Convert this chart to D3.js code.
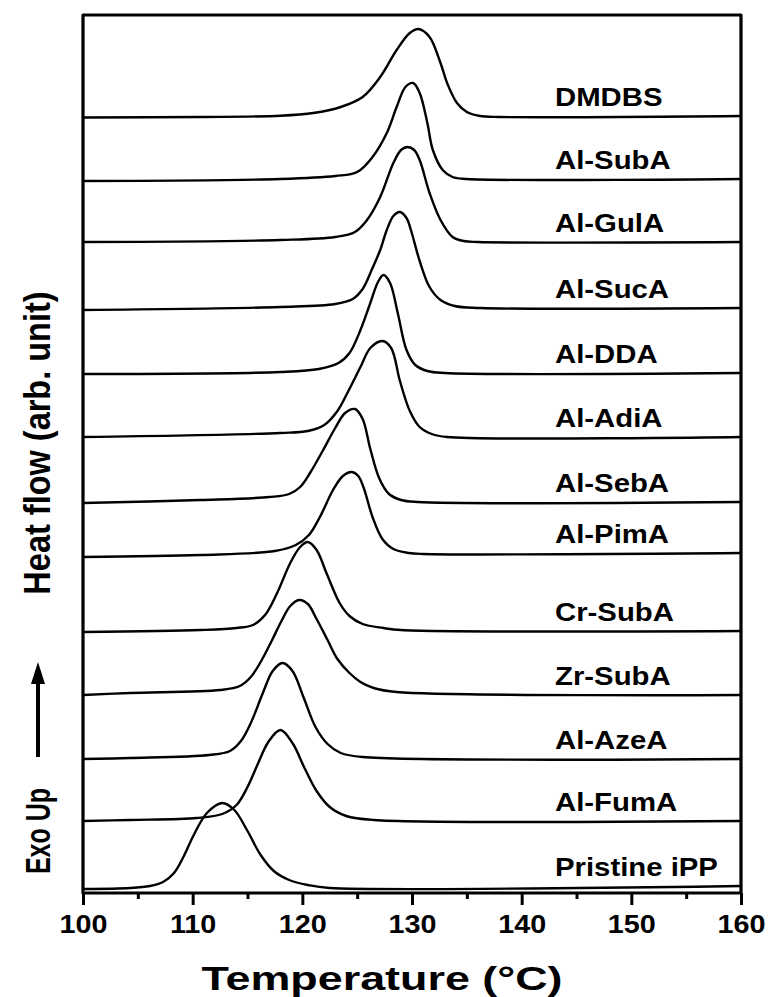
<!DOCTYPE html>
<html>
<head>
<meta charset="utf-8">
<script src="https://cdn.jsdelivr.net/npm/d3@7"></script>
<style>
html,body{margin:0;padding:0;background:#fff;}
svg{display:block;}
text{font-family:"Liberation Sans",Arial,Helvetica,sans-serif;font-weight:bold;fill:#000;}
</style>
</head>
<body>
<svg id="chart" width="769" height="997"></svg>
<script>
// ---------- data (temperature °C, heat flow arb. unit, stacked) ----------
const seriesNames = ["DMDBS","Al-SubA","Al-GulA","Al-SucA","Al-DDA","Al-AdiA","Al-SebA","Al-PimA","Cr-SubA","Zr-SubA","Al-AzeA","Al-FumA","Pristine iPP"];

const DMDBS   = [[100,775.5],[110.7,776],[118.0,777.3],[121.0,780],[123.5,786],[125.5,796],[127.1,816],[128.6,843],[129.8,860],[130.6,864],[131.6,856],[132.6,830],[133.2,810],[134.1,790],[135.0,781],[136.2,777],[138.0,776],[160,777]];
const AlSubA  = [[100,712],[118.0,714],[123.0,717],[125.0,721],[126.4,736],[127.7,760],[128.6,786],[129.4,806],[130.1,810],[130.7,800],[131.4,770],[131.9,743],[132.8,723],[133.7,716],[135.0,714],[160,714]];
const AlGulA  = [[100,651],[118.0,653],[123.0,656],[124.8,661],[125.9,673],[127.1,696],[128.3,730],[129.0,743],[129.6,746],[130.2,743],[130.7,733],[131.6,700],[132.6,673],[133.7,656],[134.7,652],[136.0,651],[160,651]];
const AlSucA  = [[100,583],[118.0,586],[123.0,589],[124.6,594],[125.5,604],[126.4,625],[127.1,643],[127.7,663],[128.3,677],[128.9,681],[129.5,675],[129.9,663],[130.7,632],[131.6,606],[132.6,593],[133.9,587],[136.2,585],[160,585]];
const AlDDA   = [[100,519],[118.0,521],[121.5,524],[123.3,530],[124.3,540],[125.3,563],[126.2,590],[126.9,611],[127.4,618],[128.0,610],[128.7,580],[129.5,543],[130.3,528],[131.4,522],[133.0,520],[160,520]];
const AlAdiA  = [[100,456],[118.0,460],[120.5,462],[122.0,468],[123.2,482],[124.2,502],[125.3,526],[126.2,545],[127.3,552],[128.1,545],[128.9,512],[129.8,482],[130.7,466],[131.8,459],[133.2,456],[160,456]];
const AlSebA  = [[100,390],[110.7,393],[117.0,396],[118.8,399],[119.8,406],[120.7,420],[121.9,443],[123.0,465],[123.9,480],[124.8,484],[125.5,474],[126.2,444],[127.0,415],[127.9,399],[129.0,393],[130.5,391],[160,391]];
const AlPimA  = [[100,336],[110.7,338],[117.5,342],[119.4,348],[120.6,358],[121.6,376],[122.8,403],[123.7,417],[124.5,421],[125.1,417],[125.6,405],[126.4,376],[127.3,354],[128.3,344],[129.7,340],[131.0,339],[160,340]];
const CrSubA  = [[100,261],[110.7,263],[114.0,265],[115.5,268],[116.6,278],[117.7,300],[118.9,330],[119.8,346],[120.5,351],[121.3,343],[122.2,320],[123.4,290],[124.3,277],[125.5,269],[127.4,265],[129.0,263],[160,262]];
const ZrSubA  = [[100,198],[104.3,200],[112.5,203],[114.3,207],[115.3,216],[116.3,233],[117.2,252],[118.1,272],[118.9,287],[119.7,293],[120.5,289],[121.3,274],[122.3,253],[123.2,234],[124.3,220],[125.3,211],[126.5,205],[128.6,201],[160,198]];
const AlAzeA  = [[100,134],[104.3,135],[111.5,138],[113.4,142],[114.4,152],[115.3,170],[116.4,200],[117.3,222],[118.2,230],[119.1,222],[120.1,196],[121.2,166],[122.3,149],[123.5,140],[125.5,136],[160,134]];
const AlFumA  = [[100,72],[104.3,73],[110.4,75],[112.7,79],[114.0,88],[115.0,106],[115.9,128],[116.9,151],[118.0,163],[119.1,150],[120.2,125],[121.3,102],[122.5,86],[124.0,77],[126.5,73],[160,72]];
const Pristine= [[100,4],[104.3,5],[106.1,7],[107.3,11],[108.3,20],[109.2,37],[110.1,58],[111.3,80],[112.7,90],[113.8,83],[115.0,62],[116.2,38],[117.4,22],[118.8,13],[120.5,8],[122.5,5],[160,7]];

const seriesData = [DMDBS,AlSubA,AlGulA,AlSucA,AlDDA,AlAdiA,AlSebA,AlPimA,CrSubA,ZrSubA,AlAzeA,AlFumA,Pristine];

const xMajorTicks = [100,110,120,130,140,150,160];
const xMinorTicks = [105,115,125,135,145,155];
const xTitle = "Temperature (\u00B0C)";
const yTitle = "Heat flow (arb. unit)";
const exoLabel = "Exo Up";

// ---------- layout ----------
const svg = d3.select("#chart");
const L = 83, R = 741, T = 15, B = 893;

const x = d3.scaleLinear().domain([100,160]).range([L,R]);
const y = d3.scaleLinear().domain([0,878]).range([B,T]);

const line = d3.line().x(d=>x(d[0])).y(d=>y(d[1])).curve(d3.curveCatmullRom.alpha(0.5));

const plot = svg.append("g");
plot.selectAll("path.trace").data(seriesData).enter().append("path")
  .attr("class","trace")
  .attr("d", line)
  .attr("fill","none").attr("stroke","#000").attr("stroke-width",2.4)
  .attr("stroke-linejoin","round");

// labels
const sx = 1.15;
seriesData.forEach((s,i)=>{
  const base = s[s.length-1][1];
  svg.append("g")
    .attr("transform",`translate(555,${y(base)-10}) scale(${sx},1)`)
    .append("text").attr("font-size",25.5).text(seriesNames[i]);
});

// frame
svg.append("rect").attr("x",L).attr("y",T).attr("width",R-L).attr("height",B-T)
  .attr("fill","none").attr("stroke","#000").attr("stroke-width",3.2)
  .attr("stroke-linejoin","round");

// x axis
const ax = svg.append("g").attr("transform",`translate(0,${B})`)
  .call(d3.axisBottom(x).tickValues(xMajorTicks).tickSize(12).tickPadding(10).tickFormat(d3.format("d")));
ax.select(".domain").remove();
ax.selectAll(".tick line").attr("stroke","#000").attr("stroke-width",3);
ax.selectAll(".tick text").attr("font-size",25).attr("font-family",null)
  .attr("transform",`scale(${sx},1)`);
const axm = svg.append("g").attr("transform",`translate(0,${B})`)
  .call(d3.axisBottom(x).tickValues(xMinorTicks).tickSize(6).tickFormat(""));
axm.select(".domain").remove();
axm.selectAll(".tick line").attr("stroke","#000").attr("stroke-width",3);
svg.selectAll(".tick text").style("font-family",'"Liberation Sans",Arial,sans-serif').style("font-weight","bold");

// x title
svg.append("g").attr("transform",`translate(382,990) scale(1.32,1)`)
  .append("text").attr("font-size",34).attr("text-anchor","middle").text(xTitle);

// y title
svg.append("g").attr("transform",`translate(50,443) scale(1.15,1) rotate(-90)`)
  .append("text").attr("font-size",32.5).attr("text-anchor","middle").text(yTitle);
svg.append("g").attr("transform",`translate(50,831) scale(1.4,1) rotate(-90)`)
  .append("text").attr("font-size",25).attr("text-anchor","middle").text(exoLabel);

// arrow
svg.append("line").attr("x1",38).attr("x2",38).attr("y1",757).attr("y2",678)
  .attr("stroke","#000").attr("stroke-width",4);
svg.append("path").attr("d","M38,662 L31,684 L45,684 Z").attr("fill","#000");
</script>
</body>
</html>
